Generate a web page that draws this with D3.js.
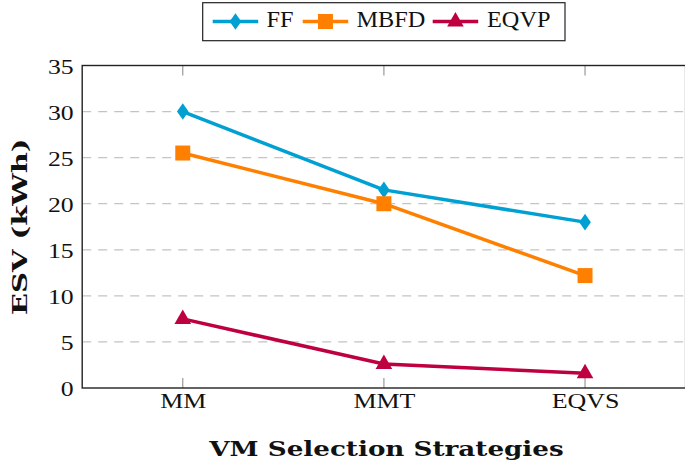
<!DOCTYPE html>
<html><head><meta charset="utf-8">
<script src="https://cdn.jsdelivr.net/npm/d3@7"></script>
<style>body{margin:0;background:#fff}svg{display:block}</style>
</head><body>
<script>
const categories = ["MM", "MMT", "EQVS"];
const ffValues = [30, 21.5, 18];
const mbfdValues = [25.5, 20, 12.2];
const eqvpValues = [7.5, 2.6, 1.6];
const seriesNames = ["FF", "MBFD", "EQVP"];
const yTicks = [0, 5, 10, 15, 20, 25, 30, 35];

const W = 685, H = 465;
const font = "Liberation Serif";
const boldFont = "DejaVu Serif";
const svg = d3.select("body").append("svg").attr("width", W).attr("height", H);

const x = d3.scaleLinear().domain([0.5, 3.5]).range([82.2, 685.6]);
const y = d3.scaleLinear().domain([0, 35]).range([388, 65.5]);

const series = [
  {name: seriesNames[0], values: ffValues, color: "#00A0D2", mark: "diamond"},
  {name: seriesNames[1], values: mbfdValues, color: "#FF8000", mark: "square"},
  {name: seriesNames[2], values: eqvpValues, color: "#BF0040", mark: "triangle"}
];

// grid
svg.append("g").selectAll("line").data(yTicks.filter(t => t > 0 && t < 35)).join("line")
  .attr("x1", x.range()[0]).attr("x2", x.range()[1])
  .attr("y1", d => y(d)).attr("y2", d => y(d))
  .attr("stroke", "#c4c4c4").attr("stroke-width", 1.2).attr("stroke-dasharray", "9,7");

// x ticks (inside, bottom and top)
const xt = svg.append("g");
categories.forEach((c, i) => {
  xt.append("line").attr("x1", x(i + 1)).attr("x2", x(i + 1)).attr("y1", y(0)).attr("y2", y(0) - 10)
    .attr("stroke", "#999").attr("stroke-width", 1.2);
  xt.append("line").attr("x1", x(i + 1)).attr("x2", x(i + 1)).attr("y1", y(35)).attr("y2", y(35) + 10)
    .attr("stroke", "#999").attr("stroke-width", 1.2);
});

// axes via d3
const xAxis = d3.axisBottom(x).tickValues([1, 2, 3]).tickFormat((d) => categories[d - 1]).tickSize(0).tickPadding(0);
const gx = svg.append("g").attr("transform", `translate(0,${y(0)})`).call(xAxis);
gx.select(".domain").remove();
gx.selectAll("text").attr("font-family", font).attr("font-size", 22).attr("fill", "#111")
  .attr("y", 20).attr("dy", 0).attr("transform", "scale(1.18,1)");

const yAxis = d3.axisLeft(y).tickValues(yTicks).tickSize(0).tickPadding(0);
const gy = svg.append("g").attr("transform", `translate(${x.range()[0]},0)`).call(yAxis);
gy.select(".domain").remove();
gy.selectAll("text").attr("font-family", font).attr("font-size", 22).attr("fill", "#111")
  .attr("x", -8.5 / 1.17).attr("dy", 0).attr("y", 7.5).attr("transform", "scale(1.17,1)");

// frame
svg.append("rect").attr("x", x.range()[0]).attr("y", y(35))
  .attr("width", x.range()[1] - x.range()[0]).attr("height", y(0) - y(35))
  .attr("fill", "none").attr("stroke", "#222").attr("stroke-width", 1.4);

// lines & markers
function markPath(type) {
  if (type === "diamond") return "M0,-8.3L5.8,0L0,8.3L-5.8,0Z";
  if (type === "square") return "M-7.5,-7.5H7.5V7.5H-7.5Z";
  return "M0,-9.5L8.3,5L-8.3,5Z";
}
const line = d3.line().x((d, i) => x(i + 1)).y(d => y(d));
series.forEach(s => {
  svg.append("path").datum(s.values).attr("d", line).attr("fill", "none")
    .attr("stroke", s.color).attr("stroke-width", 3.5).attr("stroke-linejoin", "round");
  svg.append("g").selectAll("path").data(s.values).join("path")
    .attr("transform", (d, i) => `translate(${x(i + 1)},${y(d)})`)
    .attr("d", markPath(s.mark)).attr("fill", s.color);
});

// axis titles
svg.append("text").attr("transform", "translate(386.5,455.5) scale(1.31,1)")
  .attr("text-anchor", "middle").attr("font-family", boldFont).attr("font-weight", "bold")
  .attr("font-size", 20).attr("fill", "#111").text("VM Selection Strategies");
svg.append("text").attr("transform", `translate(26.5,${(y(0) + y(35)) / 2}) rotate(-90) scale(1.38,1)`)
  .attr("text-anchor", "middle").attr("font-family", boldFont).attr("font-weight", "bold")
  .attr("font-size", 21).attr("fill", "#111").text("ESV (kWh)");

// legend
const lg = svg.append("g");
lg.append("rect").attr("x", 202.7).attr("y", 2.7).attr("width", 362.3).attr("height", 38)
  .attr("fill", "#fff").attr("stroke", "#222").attr("stroke-width", 1.2);
const legX = [212.7, 302.7, 432.7];
const legTextX = [266.5, 356.5, 487];
series.forEach((s, i) => {
  const lx = legX[i];
  lg.append("line").attr("x1", lx).attr("x2", lx + 45.5).attr("y1", 21.5).attr("y2", 21.5)
    .attr("stroke", s.color).attr("stroke-width", 3.5);
  lg.append("path").attr("transform", `translate(${lx + 22.75},21.5)`).attr("d", markPath(s.mark)).attr("fill", s.color);
  lg.append("text").attr("transform", `translate(${legTextX[i]},27) scale(1.08,1)`)
    .attr("font-family", font).attr("font-size", 22.5)
    .attr("fill", "#111").text(s.name);
});
</script>
</body></html>
